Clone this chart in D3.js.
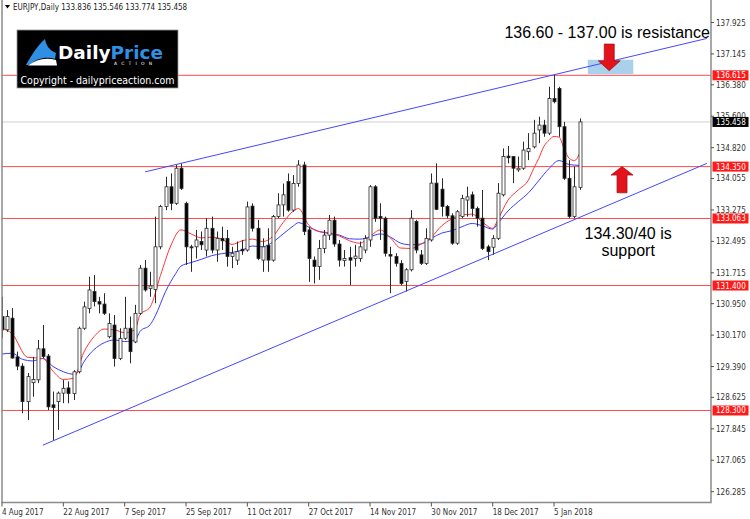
<!DOCTYPE html>
<html>
<head>
<meta charset="utf-8">
<script src="https://cdn.jsdelivr.net/npm/d3@7"></script>
<style>
body { margin: 0; background: #fff; }
svg { display: block; }
.mt { font-family: "DejaVu Sans Condensed", "DejaVu Sans", sans-serif; font-size: 8px; }
.note { font-family: "Liberation Sans", Arial, sans-serif; font-size: 16px; fill: #000; }
</style>
</head>
<body>
<div id="chart"></div>
<script>
// EURJPY daily, 4 Aug 2017 - 12 Jan 2018 (bar index 0..113)
var opens = [130.63,130.30,130.59,129.63,129.40,128.52,128.99,129.06,129.83,129.65,
    128.44,128.52,128.73,128.86,128.72,129.26,130.34,130.83,131.25,131.00,
    130.94,130.13,130.42,129.59,130.09,130.34,130.00,130.71,131.83,131.33,
    131.30,132.36,133.36,133.85,133.44,134.31,133.44,132.36,132.36,132.49,
    132.28,132.82,132.28,132.57,132.57,132.12,132.03,132.30,132.28,133.37,
    132.82,132.03,132.40,132.03,133.11,133.40,133.98,133.27,133.93,134.39,
    132.78,132.03,131.87,132.32,132.65,133.02,132.43,132.02,132.09,132.07,
    132.07,132.28,132.53,133.85,133.11,133.07,132.17,132.12,131.95,131.50,
    131.79,132.99,132.16,131.95,132.53,133.94,133.79,133.36,133.13,132.45,
    133.11,133.52,133.65,133.31,133.07,132.36,132.35,132.57,133.65,134.61,
    134.60,134.27,134.31,134.72,134.84,135.26,135.38,135.18,136.04,136.29,
    135.34,134.06,133.11,133.836];
var highs = [131.12,130.79,130.84,129.76,129.47,129.23,129.63,130.05,130.42,129.70,
    128.77,128.77,129.06,129.02,129.30,130.38,131.00,131.62,131.66,131.12,
    131.21,130.71,130.67,130.34,131.12,130.63,130.92,131.91,132.03,131.74,
    133.11,133.40,134.10,134.18,134.39,134.43,133.48,132.41,132.78,132.74,
    133.07,133.11,132.74,132.86,132.78,132.36,132.49,132.53,133.48,133.44,
    133.03,132.57,132.82,133.15,133.69,133.93,134.18,134.14,134.51,134.47,
    132.86,132.12,132.53,132.78,133.15,133.11,132.53,132.28,132.36,132.41,
    132.49,132.65,133.89,133.89,133.44,133.11,132.36,132.20,132.03,131.83,
    133.27,133.03,132.28,132.82,134.18,134.43,134.06,133.40,133.19,133.27,
    133.65,133.85,133.73,133.36,133.77,132.41,132.65,133.94,134.80,134.86,
    134.60,134.60,134.97,135.18,135.51,135.59,135.51,136.33,136.62,136.33,
    135.46,134.51,134.35,135.546];
var lows = [130.09,130.25,129.59,129.30,128.23,128.06,128.64,128.98,129.60,128.31,
    127.55,127.82,128.48,128.48,128.56,129.22,130.30,130.71,130.88,130.71,
    130.67,130.09,129.39,129.55,130.05,129.47,129.97,130.67,131.25,131.12,
    130.96,132.30,133.27,133.27,133.40,133.77,131.91,131.74,132.07,132.28,
    132.12,132.20,131.99,132.28,131.87,131.83,131.91,132.16,132.24,132.74,
    132.03,131.74,131.74,131.99,133.07,133.11,133.23,133.23,133.85,132.65,
    131.49,131.45,131.54,132.20,132.53,132.36,131.87,131.87,131.41,131.87,
    131.99,132.20,132.36,132.98,132.53,132.12,131.21,131.87,131.41,131.25,
    131.75,132.20,131.91,131.91,132.49,133.27,133.11,133.07,132.41,132.41,
    133.07,133.11,133.11,132.86,132.28,132.03,132.16,132.53,133.61,134.43,
    133.94,134.22,134.27,134.51,134.80,134.93,135.09,135.13,135.92,135.09,
    134.02,133.07,133.07,133.774];
var closes = [130.30,130.63,129.60,129.40,128.52,129.14,129.07,129.83,129.64,128.39,
    128.37,128.73,128.85,128.72,129.26,130.34,130.87,131.29,131.00,130.94,
    130.71,130.46,129.59,130.09,130.34,129.76,130.71,131.83,131.29,131.39,
    132.36,133.36,133.85,133.44,134.31,133.81,132.36,132.34,132.53,132.41,
    132.82,132.28,132.57,132.51,132.12,132.20,132.24,132.26,133.35,132.82,
    132.07,132.36,132.03,133.11,133.40,133.65,133.27,133.93,134.39,132.74,
    132.07,131.87,132.32,132.65,133.02,132.43,132.03,132.07,132.03,132.13,
    132.36,132.57,133.85,133.07,133.07,132.20,132.13,131.95,131.45,131.79,
    133.07,132.28,131.95,132.57,133.94,133.29,133.36,133.13,132.45,133.23,
    133.56,133.60,133.31,133.07,132.32,132.24,132.57,133.69,134.60,134.57,
    134.31,134.31,134.76,134.80,135.18,135.38,135.18,136.04,135.96,135.34,
    134.06,133.11,133.85,135.458];

// moving averages (bar index, price)
var fastBars = [0,2,5,8,10,12,14,16,18,20,22,24,26,27,29,31,33,35,37,39,41,43,45,47,49,51,53,55,57,58,
    60,62,64,66,68,70,72,74,76,78,80,82,84,86,88,90,92,94,96,97,99,101,103,104,105,106,107,108,109,110,111,112,113];
var fastMa = [130.34,130.20,129.62,129.59,129.27,129.07,129.10,129.74,130.13,130.32,130.30,130.23,130.30,130.67,130.87,
    131.65,132.38,132.78,132.68,132.58,132.60,132.55,132.42,132.51,132.55,132.49,132.62,132.96,133.25,133.31,
    132.90,132.74,132.71,132.63,132.51,132.45,132.62,132.78,132.58,132.33,132.32,132.43,132.60,132.88,133.05,
    133.15,133.17,132.97,132.82,133.03,133.52,133.77,134.02,134.30,134.55,134.85,135.00,135.10,135.08,134.78,
    134.55,134.50,134.68];
var slowBars = [0,2,4,6,8,10,12,14,15,16,18,20,22,24,26,27,29,30,32,34,35,37,39,41,43,45,47,49,51,53,
    55,57,58,60,62,64,66,68,70,72,74,76,78,80,82,84,86,88,90,92,94,96,97,99,101,103,105,107,109,111,113];
var slowMa = [129.70,129.72,129.57,129.53,129.59,129.39,129.26,129.20,129.27,129.50,129.81,129.98,130.05,130.01,130.05,
    130.26,130.43,130.65,131.25,131.70,131.88,131.97,132.05,132.14,132.19,132.22,132.28,132.38,132.36,132.48,
    132.68,132.88,132.96,132.85,132.74,132.69,132.65,132.56,132.55,132.61,132.68,132.60,132.45,132.41,132.43,
    132.57,132.70,132.76,132.86,132.94,132.88,132.80,132.94,133.25,133.48,133.70,134.00,134.30,134.50,134.40,
    134.38];

var labelBars = [0, 12, 24, 36, 48, 60, 72, 84, 96, 108];
var labelText = ["4 Aug 2017", "22 Aug 2017", "7 Sep 2017", "25 Sep 2017", "11 Oct 2017",
    "27 Oct 2017", "14 Nov 2017", "30 Nov 2017", "18 Dec 2017", "5 Jan 2018"];
var priceTicks = [137.925, 137.145, 136.380, 135.600, 134.820, 134.055, 133.275, 132.495,
    131.715, 130.950, 130.170, 129.390, 128.625, 127.845, 127.065, 126.285];
var levels = [136.615, 134.350, 133.063, 131.400, 128.300];
var lastPrice = 135.458;

// trendlines drawn on the chart: [bar, price]
var upperTrend = [[28, 134.22], [137.9, 137.53]];
var lowerTrend = [[8, 127.44], [137.9, 134.43]];
var resistZone = {bars: [114.6, 123.5], prices: [136.64, 137.0]};

var width = 750, height = 519;
var plot = {left: 2, right: 711, top: 0, bottom: 502.5};

var x = d3.scaleLinear().domain([0, 113]).range([2, 579.6]);
var y = d3.scaleLinear().domain([126.285, 137.925]).range([491.7, 22.5]);

var svg = d3.select("#chart").append("svg")
    .attr("width", width)
    .attr("height", height);

svg.append("rect").attr("width", width).attr("height", height).attr("fill", "#fff");

svg.append("clipPath").attr("id", "plotclip")
    .append("rect")
    .attr("x", plot.left).attr("y", plot.top)
    .attr("width", plot.right - plot.left).attr("height", plot.bottom - plot.top);

var g = svg.append("g").attr("clip-path", "url(#plotclip)");

// last price line
g.append("line")
    .attr("x1", plot.left).attr("x2", plot.right)
    .attr("y1", y(lastPrice)).attr("y2", y(lastPrice))
    .attr("stroke", "#d0d0d0").attr("stroke-width", 1);

// horizontal levels
g.selectAll(".level")
    .data(levels)
    .enter().append("line")
    .attr("class", "level")
    .attr("x1", plot.left).attr("x2", plot.right)
    .attr("y1", function(d) { return y(d); })
    .attr("y2", function(d) { return y(d); })
    .attr("stroke", "#ff4a4a").attr("stroke-width", 1);

// resistance zone box
g.append("rect")
    .attr("x", x(resistZone.bars[0]))
    .attr("y", y(resistZone.prices[1]))
    .attr("width", x(resistZone.bars[1]) - x(resistZone.bars[0]))
    .attr("height", y(resistZone.prices[0]) - y(resistZone.prices[1]))
    .attr("fill", "#aad0ec");

// moving averages
var maLine = d3.line()
    .x(function(d) { return x(d[0]); })
    .y(function(d) { return y(d[1]); })
    .curve(d3.curveMonotoneX);

g.append("path")
    .attr("d", maLine(slowBars.map(function(b, i) { return [b, slowMa[i]]; })))
    .attr("fill", "none").attr("stroke", "#3b3bff").attr("stroke-width", 1);
g.append("path")
    .attr("d", maLine(fastBars.map(function(b, i) { return [b, fastMa[i]]; })))
    .attr("fill", "none").attr("stroke", "#ff3535").attr("stroke-width", 1);

// candles
var candles = opens.map(function(o, i) {
    return {i: i, o: o, h: highs[i], l: lows[i], c: closes[i]};
});

var candle = g.selectAll(".candle")
    .data(candles)
    .enter().append("g")
    .attr("class", "candle");

candle.append("line")
    .attr("x1", function(d) { return Math.round(x(d.i)) + 0.5; })
    .attr("x2", function(d) { return Math.round(x(d.i)) + 0.5; })
    .attr("y1", function(d) { return y(d.h); })
    .attr("y2", function(d) { return y(d.l); })
    .attr("stroke", "#2a2a2a").attr("stroke-width", 1);

candle.append("rect")
    .attr("x", function(d) { return Math.round(x(d.i)) - 1; })
    .attr("width", 3)
    .attr("y", function(d) { return y(Math.max(d.o, d.c)); })
    .attr("height", function(d) { return Math.max(1, Math.abs(y(d.o) - y(d.c))); })
    .attr("fill", function(d) { return d.c >= d.o ? "#fff" : "#000"; })
    .attr("stroke", "#2a2a2a").attr("stroke-width", 0.8);

// trendlines
[upperTrend, lowerTrend].forEach(function(t) {
    g.append("line")
        .attr("x1", x(t[0][0])).attr("y1", y(t[0][1]))
        .attr("x2", x(t[1][0])).attr("y2", y(t[1][1]))
        .attr("stroke", "#4646ff").attr("stroke-width", 1);
});

// arrows (tip anchored on price)
function arrow(bar, tip, base, end) {
    var cx = x(bar), yt = y(tip), yb = y(base), ye = y(end);
    var pts = [[cx, yt], [cx + 11, yb], [cx + 5, yb], [cx + 5, ye], [cx - 5, ye], [cx - 5, yb], [cx - 11, yb]];
    svg.append("polygon")
        .attr("points", pts.map(function(p) { return p.join(","); }).join(" "))
        .attr("fill", "#e3131b").attr("stroke", "#9c0d10").attr("stroke-width", 0.7);
}
arrow(118.8, 136.73, 136.975, 137.39);
arrow(121.3, 134.35, 134.14, 133.70);

// notes
svg.append("text").attr("class", "note")
    .attr("x", x(98.3)).attr("y", y(137.53))
    .text("136.60 - 137.00 is resistance");
svg.append("text").attr("class", "note")
    .attr("x", x(122.5)).attr("y", y(132.56))
    .attr("text-anchor", "middle")
    .text("134.30/40 is");
svg.append("text").attr("class", "note")
    .attr("x", x(122.5)).attr("y", y(132.14))
    .attr("text-anchor", "middle")
    .text("support");

// frame
svg.append("path")
    .attr("d", "M" + plot.left + "," + plot.top + "V" + plot.bottom + "H" + plot.right + "V" + plot.top)
    .attr("fill", "none").attr("stroke", "#8a8a8a").attr("stroke-width", 1.5);

// x axis labels
var xl = svg.selectAll(".xl").data(labelBars).enter().append("g").attr("class", "xl");
xl.append("line")
    .attr("x1", function(d) { return x(d); }).attr("x2", function(d) { return x(d); })
    .attr("y1", plot.bottom).attr("y2", plot.bottom + 4)
    .attr("stroke", "#555");
xl.append("text").attr("class", "mt")
    .attr("x", function(d) { return x(d); })
    .attr("y", 514.5)
    .attr("fill", "#333")
    .text(function(d, i) { return labelText[i]; });

// price axis
var yl = svg.selectAll(".yl").data(priceTicks).enter().append("g").attr("class", "yl");
yl.append("line")
    .attr("x1", plot.right).attr("x2", plot.right + 3)
    .attr("y1", function(d) { return y(d); }).attr("y2", function(d) { return y(d); })
    .attr("stroke", "#555");
yl.append("text").attr("class", "mt")
    .attr("x", 716)
    .attr("y", function(d) { return y(d) + 3; })
    .attr("fill", "#333")
    .text(function(d) { return d3.format(".3f")(d); });

function priceTag(v, fill) {
    svg.append("rect")
        .attr("x", 712.5).attr("y", y(v) - 5)
        .attr("width", 36).attr("height", 10)
        .attr("fill", fill);
    svg.append("text").attr("class", "mt")
        .attr("x", 716).attr("y", y(v) + 3)
        .attr("fill", "#fff")
        .text(d3.format(".3f")(v));
}
levels.forEach(function(v) { priceTag(v, "#ff1a1a"); });
priceTag(lastPrice, "#000");

// header
svg.append("path").attr("d", "M5,5 L10,5 L7.5,8.5 Z").attr("fill", "#000");
svg.append("text").attr("class", "mt")
    .attr("x", 13).attr("y", 10)
    .attr("fill", "#222")
    .text("EURJPY,Daily  " + [opens[113], highs[113], lows[113], closes[113]].map(d3.format(".3f")).join(" "));

// logo
var logo = svg.append("g").attr("transform", "translate(17,30)");
logo.append("rect").attr("width", 161).attr("height", 58).attr("fill", "#000")
    .attr("stroke", "#9a9a9a").attr("stroke-width", 0.8);
logo.append("path")
    .attr("d", "M9,35 C14,26 20,16 28,9 C29,15 32,20 39,23 L38,29 C30,26 20,28 12,35 Z")
    .attr("fill", "#2f8fe2");
logo.append("path")
    .attr("d", "M11,35.5 C19,29 29,27 39,30 L40,35.5 Z")
    .attr("fill", "#fff");
logo.append("text")
    .attr("x", 41).attr("y", 29)
    .attr("font-family", "'DejaVu Sans', sans-serif")
    .attr("font-weight", "bold").attr("font-size", 18)
    .attr("textLength", 105).attr("lengthAdjust", "spacingAndGlyphs")
    .attr("fill", "#fff")
    .text("Daily")
    .append("tspan").attr("fill", "#2f8fe2").text("Price");
logo.append("text")
    .attr("x", 97).attr("y", 35)
    .attr("font-family", "'DejaVu Sans', sans-serif")
    .attr("font-size", 4.5).attr("letter-spacing", 4.2)
    .attr("fill", "#fff")
    .text("ACTION");
logo.append("text")
    .attr("x", 80.5).attr("y", 53.5)
    .attr("text-anchor", "middle")
    .attr("font-family", "'DejaVu Sans Condensed', 'DejaVu Sans', sans-serif")
    .attr("font-size", 10.5)
    .attr("fill", "#fff")
    .text("Copyright - dailypriceaction.com");
</script>
</body>
</html>
